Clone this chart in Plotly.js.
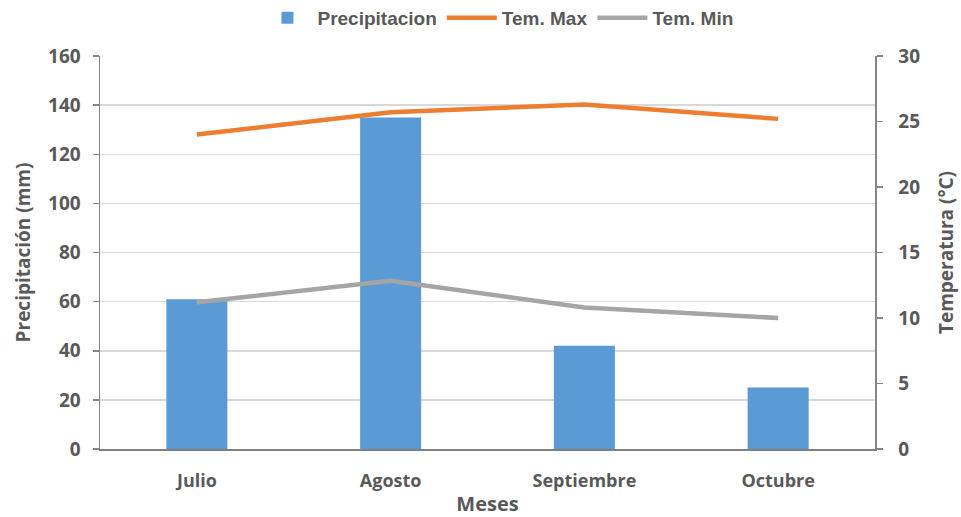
<!DOCTYPE html>
<html>
<head>
<meta charset="utf-8">
<script src="https://cdn.plot.ly/plotly-3.0.1.min.js"></script>
<style>html,body{margin:0;padding:0;background:#fff}</style>
</head>
<body>
<div id="chart" style="width:961px;height:517px"></div>
<script>
// Monthly precipitation (mm) and max/min temperatures (°C)
const meses = ["Julio", "Agosto", "Septiembre", "Octubre"];
const precipitacion = [61, 135, 42, 25];
const temMax = [24.0, 25.7, 26.3, 25.2];
const temMin = [11.2, 12.85, 10.8, 10.0];

const gray = "#595959";
const axisGray = "#868686";
const sans = "Open Sans, sans-serif";
const tickFont = {family: sans, size: 19, color: gray, weight: 700};
const titleFont = {family: sans, size: 19, color: gray, weight: 700};

const traces = [
  {
    type: "bar", name: "Precipitacion", x: meses, y: precipitacion,
    marker: {color: "#5B9BD5"}, width: 0.315, yaxis: "y"
  },
  {
    type: "scatter", mode: "lines", name: "Tem. Max", x: meses, y: temMax,
    line: {color: "#ED7D31", width: 4.5}, yaxis: "y2"
  },
  {
    type: "scatter", mode: "lines", name: "Tem. Min", x: meses, y: temMin,
    line: {color: "#A5A5A5", width: 4.5}, yaxis: "y2"
  }
];

const layout = {
  width: 961, height: 517,
  margin: {l: 100, r: 86, t: 56, b: 68, autoexpand: false},
  paper_bgcolor: "#fff", plot_bgcolor: "#fff",
  showlegend: true,
  legend: {
    orientation: "h", x: 0.5135, xanchor: "center", y: 1.097, yanchor: "middle",
    font: {family: "Liberation Sans, Arial, sans-serif", size: 19, color: gray, weight: 700},
    itemwidth: 50, traceorder: "normal"
  },
  xaxis: {
    showline: true, linecolor: "#7f7f7f", linewidth: 2,
    ticks: "", showgrid: false,
    ticklabelstandoff: 14,
    tickfont: {family: sans, size: 18, color: gray, weight: 700},
    title: {text: "Meses", standoff: 8,
      font: {family: sans, size: 20, color: gray, weight: 700}}
  },
  yaxis: {
    range: [0, 160], dtick: 20, tick0: 0,
    showline: true, linecolor: axisGray, linewidth: 1.5,
    ticks: "outside", ticklen: 6, tickcolor: axisGray, tickwidth: 1.5,
    ticklabelstandoff: 8,
    showgrid: true, gridcolor: "#d9d9d9", gridwidth: 1.5,
    zeroline: false,
    tickfont: tickFont,
    title: {text: "Precipitación (mm)", standoff: 12, font: titleFont}
  },
  yaxis2: {
    overlaying: "y", side: "right",
    range: [0, 30], dtick: 5, tick0: 0,
    showline: true, linecolor: axisGray, linewidth: 1.5,
    ticks: "outside", ticklen: 6, tickcolor: axisGray, tickwidth: 1.5,
    ticklabelstandoff: 12,
    showgrid: false, zeroline: false,
    tickfont: tickFont,
    title: {text: "Temperatura (°C)", standoff: 20, font: titleFont}
  }
};

Plotly.newPlot("chart", traces, layout, {displayModeBar: false, staticPlot: true});
</script>
</body>
</html>
